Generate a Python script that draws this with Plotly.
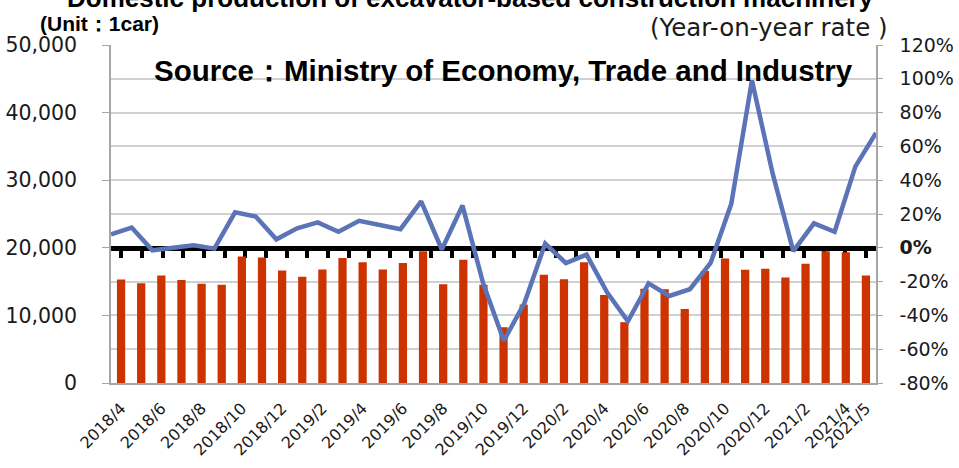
import plotly.graph_objects as go

# Monthly domestic production (units) and year-on-year rate (%)
months = [
    "2018/4", "2018/5", "2018/6", "2018/7", "2018/8", "2018/9", "2018/10", "2018/11", "2018/12",
    "2019/1", "2019/2", "2019/3", "2019/4", "2019/5", "2019/6", "2019/7", "2019/8", "2019/9",
    "2019/10", "2019/11", "2019/12", "2020/1", "2020/2", "2020/3", "2020/4", "2020/5", "2020/6",
    "2020/7", "2020/8", "2020/9", "2020/10", "2020/11", "2020/12", "2021/1", "2021/2", "2021/3",
    "2021/4", "2021/5",
]
production = [
    15300, 14750, 15900, 15250, 14700, 14550, 18700, 18550, 16650,
    15700, 16800, 18500, 17850, 16800, 17750, 19500, 14600, 18250,
    14550, 8250, 11600, 16000, 15350, 17850, 13000, 9000, 13950,
    13850, 10950, 16550, 18400, 16750, 16900, 15600, 17650, 19500,
    19350, 15900,
]
yoy_rate = [
    8, 12, -1.5, 0, 1.5, -0.5, 21, 18.5, 5,
    11.5, 15, 9.5, 16, 13.5, 11, 27.5, -1, 25,
    -21, -55, -32.5, 2.5, -9, -4, -26.5, -43.5, -21,
    -28.5, -24.5, -9, 26, 99, 44, -2, 14.5, 9.5,
    48, 68,
]
x_labels = months[::2] + [months[-1]]

left_ticks = [0, 10000, 20000, 30000, 40000, 50000]
right_ticks = [-80, -60, -40, -20, 0, 20, 40, 60, 80, 100, 120]
right_text = ["<b>0%</b>" if v == 0 else f"{v}%" for v in right_ticks]

BAR_COLOR = "#cc3300"
LINE_COLOR = "#5b73b7"
AXIS_GRAY = "#a6a6a6"
GRID_GRAY = "#d0d0d0"
TEXT_COLOR = "#1a1a1a"

fig = go.Figure()
fig.add_trace(go.Bar(
    x=months, y=production, marker=dict(color=BAR_COLOR, line=dict(width=0)),
    xaxis="x", yaxis="y", name="Production",
))
fig.add_trace(go.Scatter(
    x=months, y=yoy_rate, mode="lines", line=dict(color=LINE_COLOR, width=4.5),
    xaxis="x2", yaxis="y2", name="Year-on-year rate",
))

fig.update_layout(
    width=959, height=468,
    margin=dict(l=111, r=83, t=45, b=85, pad=0, autoexpand=False),
    paper_bgcolor="white", plot_bgcolor="white",
    showlegend=False, bargap=0.59,
    xaxis=dict(
        type="category", categoryorder="array", categoryarray=months,
        tickvals=x_labels, ticktext=x_labels, tickangle=-45,
        tickfont=dict(family="DejaVu Sans", size=16, color=TEXT_COLOR),
        showline=True, linecolor=AXIS_GRAY, linewidth=1.5,
        ticks="", showgrid=False, ticklabelstandoff=8, automargin=False,
    ),
    # thick 0% baseline of the rate axis, ticked at month boundaries
    xaxis2=dict(
        type="category", categoryorder="array", categoryarray=months,
        overlaying="x", anchor="free", position=0.4, side="bottom",
        tickson="boundaries", ticks="outside", ticklen=7, tickwidth=3.5, tickcolor="black",
        showline=True, linecolor="black", linewidth=4.5,
        showticklabels=False, showgrid=False, zeroline=False,
        layer="below traces", automargin=False,
    ),
    yaxis=dict(
        range=[0, 50000], tickvals=left_ticks, tickformat=",",
        tickfont=dict(family="DejaVu Sans", size=20.5, color=TEXT_COLOR),
        showline=True, linecolor=AXIS_GRAY, linewidth=1.5,
        ticks="outside", ticklen=7, tickcolor=AXIS_GRAY, showgrid=False,
        zeroline=False, ticklabelstandoff=21, automargin=False,
    ),
    yaxis2=dict(
        overlaying="y", anchor="x2", side="right", range=[-80, 120],
        tickvals=right_ticks, ticktext=right_text,
        tickfont=dict(family="DejaVu Sans", size=19, color=TEXT_COLOR),
        showline=True, linecolor=AXIS_GRAY, linewidth=1.5,
        ticks="outside", ticklen=5, tickcolor=AXIS_GRAY,
        showgrid=True, gridcolor=GRID_GRAY, gridwidth=1.5, zeroline=False,
        ticklabelstandoff=13, automargin=False,
    ),
    annotations=[
        dict(text="<b>Domestic production of excavator-based construction machinery</b>",
             xref="paper", yref="paper", x=0.470, y=1.14, xanchor="center", yanchor="middle",
             showarrow=False, font=dict(family="Liberation Sans", size=26, color="black")),
        dict(text="<b>(Unit：1car)</b>",
             xref="paper", yref="paper", x=-0.0954, y=1.065, xanchor="left", yanchor="middle",
             showarrow=False, font=dict(family="Liberation Sans", size=21, color="black")),
        dict(text="(Year-on-year rate )",
             xref="paper", yref="paper", x=1.0183, y=1.053, xanchor="right", yanchor="middle",
             showarrow=False, font=dict(family="DejaVu Sans", size=24.5, color=TEXT_COLOR)),
        dict(text="<b>Source：Ministry of Economy, Trade and Industry</b>",
             xref="paper", yref="paper", x=0.513, y=0.926, xanchor="center", yanchor="middle",
             showarrow=False, font=dict(family="Liberation Sans", size=29.5, color="black")),
    ],
)

fig.write_html("out.html")
